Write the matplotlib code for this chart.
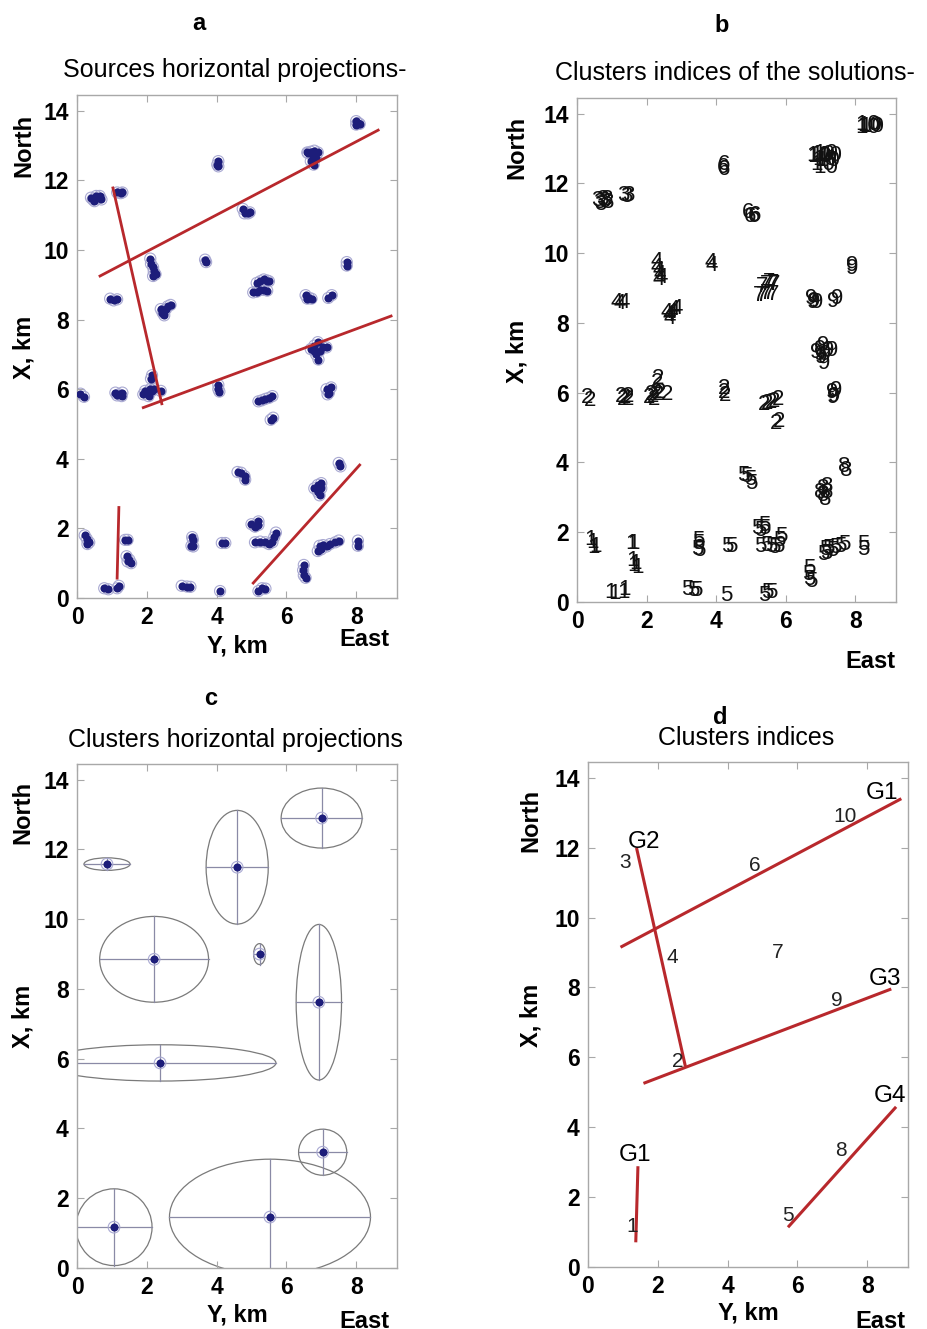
import numpy as np
import matplotlib.pyplot as plt
from matplotlib.patches import Ellipse

plt.rcParams['font.family'] = ['Liberation Sans', 'DejaVu Sans']

W, H = 927, 1329

# source epicentres: (east, north, cluster index)
sources = [
    # cluster 10
    (8.0, 13.7, 10), (8.05, 13.65, 10), (8.1, 13.62, 10), (8.0, 13.6, 10),
    (6.6, 12.8, 10), (6.7, 12.82, 10), (6.8, 12.85, 10), (6.9, 12.8, 10),
    (6.75, 12.7, 10), (6.85, 12.65, 10), (6.7, 12.55, 10), (6.78, 12.45, 10),
    (6.62, 12.78, 10),
    # cluster 6
    (4.05, 12.55, 6), (4.05, 12.4, 6), (4.02, 12.45, 6),
    (4.75, 11.18, 6), (4.8, 11.05, 6), (4.9, 11.05, 6), (4.95, 11.08, 6),
    # cluster 3
    (0.4, 11.5, 3), (0.45, 11.45, 3), (0.55, 11.55, 3), (0.6, 11.48, 3),
    (0.65, 11.55, 3), (0.5, 11.4, 3), (0.7, 11.45, 3),
    (1.15, 11.65, 3), (1.25, 11.63, 3), (1.3, 11.65, 3),
    # cluster 4
    (2.1, 9.75, 4), (2.12, 9.6, 4), (2.18, 9.5, 4), (2.2, 9.38, 4),
    (2.25, 9.3, 4), (2.18, 9.25, 4),
    (3.67, 9.72, 4), (3.7, 9.65, 4),
    (0.95, 8.6, 4), (1.05, 8.55, 4), (1.15, 8.58, 4),
    (2.4, 8.3, 4), (2.45, 8.2, 4), (2.5, 8.12, 4), (2.55, 8.3, 4),
    (2.6, 8.38, 4), (2.68, 8.42, 4), (2.48, 8.25, 4),
    # cluster 7
    (5.05, 8.78, 7), (5.15, 8.8, 7), (5.25, 8.85, 7), (5.35, 8.85, 7),
    (5.45, 8.83, 7), (5.15, 9.05, 7), (5.25, 9.1, 7), (5.35, 9.15, 7),
    (5.45, 9.12, 7), (5.5, 9.1, 7),
    # cluster 9
    (7.73, 9.65, 9), (7.73, 9.55, 9),
    (6.55, 8.7, 9), (6.6, 8.6, 9), (6.65, 8.62, 9), (6.72, 8.6, 9),
    (7.2, 8.62, 9), (7.3, 8.7, 9),
    (6.7, 7.15, 9), (6.8, 7.25, 9), (6.9, 7.35, 9), (6.95, 7.1, 9),
    (6.85, 7.0, 9), (6.92, 6.85, 9), (7.05, 7.2, 9), (7.15, 7.2, 9),
    (6.8, 7.1, 9),
    (7.15, 6.0, 9), (7.22, 5.9, 9), (7.28, 6.05, 9), (7.18, 5.85, 9),
    # cluster 2
    (0.1, 5.87, 2), (0.2, 5.78, 2),
    (1.1, 5.9, 2), (1.2, 5.85, 2), (1.3, 5.9, 2), (1.28, 5.8, 2), (1.15, 5.82, 2),
    (1.9, 5.85, 2), (2.0, 5.9, 2), (2.1, 6.0, 2), (2.2, 6.0, 2), (2.05, 5.8, 2),
    (2.15, 5.95, 2), (1.95, 5.95, 2), (2.4, 5.95, 2), (2.12, 6.3, 2), (2.15, 6.4, 2),
    (4.05, 6.12, 2), (4.05, 6.0, 2), (4.08, 5.93, 2),
    (5.2, 5.65, 2), (5.3, 5.68, 2), (5.4, 5.72, 2), (5.5, 5.75, 2), (5.6, 5.8, 2),
    (5.55, 5.12, 2), (5.62, 5.18, 2),
    # cluster 5
    (4.6, 3.62, 5), (4.7, 3.6, 5), (4.8, 3.5, 5), (4.82, 3.4, 5),
    (5.0, 2.12, 5), (5.1, 2.05, 5), (5.2, 2.2, 5), (5.2, 2.1, 5),
    (3.3, 1.75, 5), (3.32, 1.68, 5), (3.33, 1.48, 5), (3.28, 1.5, 5),
    (4.15, 1.58, 5), (4.25, 1.58, 5),
    (5.1, 1.6, 5), (5.25, 1.62, 5), (5.4, 1.6, 5), (5.5, 1.55, 5),
    (5.6, 1.6, 5), (5.65, 1.75, 5), (5.7, 1.88, 5),
    (6.9, 1.35, 5), (6.95, 1.5, 5), (7.05, 1.52, 5), (7.15, 1.48, 5),
    (7.25, 1.55, 5), (7.4, 1.6, 5), (7.5, 1.65, 5), (7.0, 1.4, 5),
    (8.05, 1.65, 5), (8.05, 1.5, 5),
    (6.5, 0.95, 5), (6.48, 0.8, 5), (6.5, 0.65, 5), (6.55, 0.58, 5),
    (3.0, 0.35, 5), (3.15, 0.33, 5), (3.25, 0.32, 5),
    (4.1, 0.2, 5),
    (5.2, 0.2, 5), (5.3, 0.28, 5), (5.4, 0.27, 5),
    # cluster 8
    (7.5, 3.88, 8), (7.55, 3.78, 8),
    (6.8, 3.15, 8), (6.9, 3.25, 8), (7.0, 3.3, 8), (6.9, 3.05, 8),
    (6.95, 2.95, 8), (7.0, 3.15, 8),
    # cluster 1
    (0.22, 1.8, 1), (0.28, 1.7, 1), (0.35, 1.6, 1), (0.3, 1.55, 1),
    (1.38, 1.67, 1), (1.45, 1.67, 1),
    (1.42, 1.2, 1), (1.45, 1.05, 1), (1.55, 1.0, 1), (1.5, 1.1, 1),
    (0.78, 0.28, 1), (0.9, 0.25, 1), (1.15, 0.28, 1), (1.2, 0.35, 1),
]
src_east = [s[0] for s in sources]
src_north = [s[1] for s in sources]
src_cluster = [s[2] for s in sources]

# lineaments drawn on panel a
lines_a_east = [[0.66, 8.63], [1.03, 2.43], [1.9, 9.0], [1.2, 1.15], [5.05, 8.1]]
lines_a_north = [[9.25, 13.44], [11.78, 5.58], [5.47, 8.1], [2.6, 0.57], [0.43, 3.82]]

# cluster centres and ellipse semi-axes (east, north)
clusters = [1, 2, 3, 4, 5, 6, 7, 8, 9, 10]
cl_east = [1.06, 2.38, 0.86, 2.21, 5.53, 4.59, 5.23, 7.04, 6.93, 7.01]
cl_north = [1.17, 5.88, 11.58, 8.85, 1.46, 11.49, 9.0, 3.32, 7.62, 12.9]
cl_a = [1.09, 3.32, 0.66, 1.56, 2.88, 0.89, 0.17, 0.69, 0.65, 1.16]
cl_b = [1.1, 0.52, 0.18, 1.23, 1.66, 1.63, 0.3, 0.66, 2.23, 0.86]

# fault groups of panel d
faults = ['G1', 'G2', 'G3', 'G1', 'G4']
fault_east = [[0.97, 8.94], [1.4, 2.78], [1.63, 8.65], [1.43, 1.37], [5.76, 8.8]]
fault_north = [[9.17, 13.38], [11.95, 5.79], [5.27, 7.94], [2.84, 0.75], [1.17, 4.55]]
group_pos = [(7.95, 13.55), (1.15, 12.15), (8.05, 8.25), (0.88, 3.2), (8.2, 4.9)]

RED = '#b8282c'
NAVY = '#1d1d7a'
HALO = '#a9a9d2'
GREY = '#a8a8a8'


def box(l, t, r, b):
    return [l / W, 1 - b / H, (r - l) / W, (b - t) / H]


def ftext(x, y, s, **kw):
    fig.text(x / W, 1 - y / H, s, ha='center', va='center', **kw)


def style(ax):
    ax.set_xlim(0, 9.17)
    ax.set_ylim(0, 14.45)
    ax.set_xticks([0, 2, 4, 6, 8])
    ax.set_yticks([0, 2, 4, 6, 8, 10, 12, 14])
    ax.tick_params(direction='in', top=True, right=True, length=5,
                   color=GREY, labelsize=16.5, pad=6)
    for lab in ax.get_xticklabels() + ax.get_yticklabels():
        lab.set_fontweight('bold')
    for sp in ax.spines.values():
        sp.set_color(GREY)
        sp.set_linewidth(1.0)


fig = plt.figure(figsize=(W / 100, H / 100), dpi=100)
axa = fig.add_axes(box(77, 95, 397, 598))
axb = fig.add_axes(box(577, 98, 896, 602))
axc = fig.add_axes(box(77, 764, 397, 1268))
axd = fig.add_axes(box(588, 762, 908, 1267))
for ax in (axa, axb, axc, axd):
    style(ax)

# a: sources
axa.scatter(src_east, src_north, s=64, facecolor='none', edgecolor=HALO, linewidth=0.8, zorder=2)
axa.scatter(src_east, src_north, s=34, color=NAVY, linewidth=0, zorder=3)
for xe, yn in zip(lines_a_east, lines_a_north):
    axa.plot(xe, yn, color=RED, lw=2.0, zorder=4)

# b: cluster indices
for xe, yn, c in zip(src_east, src_north, src_cluster):
    axb.text(xe, yn, str(c), ha='left', va='center', fontsize=16, color='#111111')

# c: cluster ellipses
for xe, yn, a, b in zip(cl_east, cl_north, cl_a, cl_b):
    axc.add_patch(Ellipse((xe, yn), 2 * a, 2 * b, fill=False, edgecolor='#7a7a7a', lw=0.9))
    axc.plot([xe - a, xe + a], [yn, yn], color='#8a8aa6', lw=0.9)
    axc.plot([xe, xe], [yn - b, yn + b], color='#8a8aa6', lw=0.9)
axc.scatter(cl_east, cl_north, s=70, facecolor='none', edgecolor=HALO, linewidth=0.8, zorder=3)
axc.scatter(cl_east, cl_north, s=34, color=NAVY, linewidth=0, zorder=4)

# d: fault groups with cluster numbers
for xe, yn in zip(fault_east, fault_north):
    axd.plot(xe, yn, color=RED, lw=2.2)
for (xe, yn), g in zip(group_pos, faults):
    axd.text(xe, yn, g, ha='left', va='center', fontsize=17.5)
for xe, yn, c in zip(cl_east, cl_north, clusters):
    axd.text(xe + 0.03, yn, str(c), ha='left', va='center', fontsize=15, color='#222222')

# titles and labels
ftext(199, 23, 'a', fontsize=17, fontweight='bold')
ftext(235, 70, 'Sources horizontal projections-', fontsize=18)
ftext(722, 25, 'b', fontsize=17, fontweight='bold')
ftext(735, 73, 'Clusters indices of the solutions-', fontsize=18)
ftext(211, 699, 'c', fontsize=17, fontweight='bold')
ftext(235, 740, 'Clusters horizontal projections', fontsize=18)
ftext(720, 718, 'd', fontsize=17, fontweight='bold')
ftext(746, 738, 'Clusters indices', fontsize=18)

for x, yn, yx in [(24, 145, 347), (517, 147, 351), (23, 812, 1016), (531, 820, 1015)]:
    ftext(x, yn, 'North', fontsize=17, fontweight='bold', rotation=90)
    ftext(x, yx, 'X, km', fontsize=17, fontweight='bold', rotation=90)

ftext(237, 646, 'Y, km', fontsize=17, fontweight='bold')
ftext(364, 640, 'East', fontsize=17, fontweight='bold')
ftext(870, 662, 'East', fontsize=17, fontweight='bold')
ftext(237, 1315, 'Y, km', fontsize=17, fontweight='bold')
ftext(364, 1321, 'East', fontsize=17, fontweight='bold')
ftext(748, 1313, 'Y, km', fontsize=17, fontweight='bold')
ftext(880, 1321, 'East', fontsize=17, fontweight='bold')

fig.savefig('out.png', dpi=100)
